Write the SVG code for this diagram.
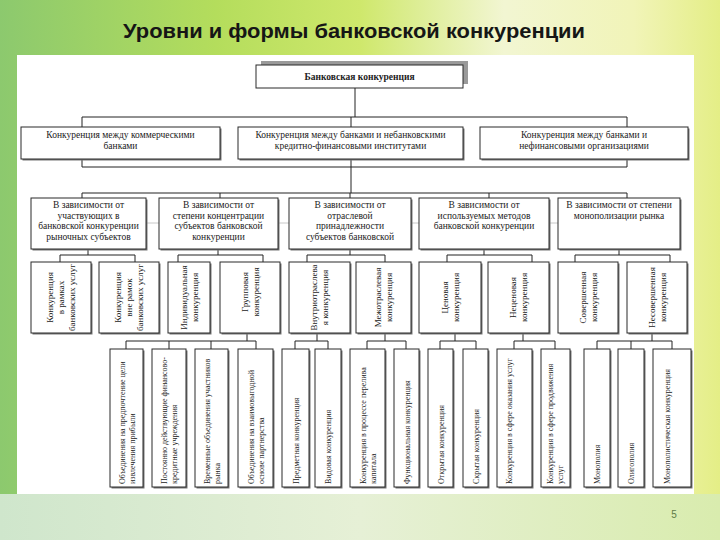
<svg xmlns="http://www.w3.org/2000/svg" width="720" height="540" viewBox="0 0 720 540">
<defs>
<linearGradient id="bg" x1="0" y1="0" x2="1" y2="0">
<stop offset="0" stop-color="#8cc96e"/>
<stop offset="0.3" stop-color="#b4dd5c"/>
<stop offset="0.5" stop-color="#cfe86c"/>
<stop offset="0.7" stop-color="#f2f6d2"/>
<stop offset="0.88" stop-color="#f1f4b8"/>
<stop offset="1" stop-color="#e4ee86"/>
</linearGradient>
<linearGradient id="bot" x1="0" y1="0" x2="1" y2="0">
<stop offset="0" stop-color="#cfe6cc"/>
<stop offset="0.5" stop-color="#e6f0d6"/>
<stop offset="1" stop-color="#d9ecae"/>
</linearGradient>
</defs>
<style>
.bx{fill:#fff;stroke:#2a2a2a;stroke-width:1}
.sh{fill:#777}
.t{font-family:"Liberation Serif","DejaVu Serif",serif;font-size:9.5px;fill:#222;text-anchor:middle}
.v{font-family:"Liberation Serif","DejaVu Serif",serif;font-size:9px;fill:#222;text-anchor:middle}
.vb{font-family:"Liberation Serif","DejaVu Serif",serif;font-size:8px;fill:#222;text-anchor:start}
.c{fill:none;stroke:#222;stroke-width:1}
.f{fill:none;stroke:#c8c8c8;stroke-width:1}
</style>
<rect x="0" y="0" width="720" height="540" fill="url(#bg)"/>
<rect x="0" y="494" width="720" height="46" fill="url(#bot)"/>
<rect x="17" y="55" width="677" height="439" fill="#fff"/>
<text x="354" y="38" font-family="'Liberation Sans','DejaVu Sans',sans-serif" font-weight="bold" font-size="20" fill="#161616" text-anchor="middle" textLength="462" lengthAdjust="spacingAndGlyphs">Уровни и формы банковской конкуренции</text>
<text x="674" y="518" font-family="'Liberation Sans','DejaVu Sans',sans-serif" font-size="10" fill="#5f7a46" text-anchor="middle">5</text>

<g id="connectors">
<path class="f" d="M146 223H159M278 223H289M411 223H419M549 223H558"/>
<path class="c" d="M355 88V117M82 117H627M82 117V127M351 117V127M627 117V127"/>
<path class="c" d="M82 159V167H627V159M351 159V193"/>
<path class="c" d="M82 193H627M82 193V198M220 193V198M350 193V198M489 193V198M627 193V198"/>
<path class="c" d="M88 249V255M60 255H135M60 255V262M135 255V262"/>
<path class="c" d="M218 249V255M178 255H263M178 255V262M263 255V262"/>
<path class="c" d="M350 249V255M307 255H385M307 255V262M385 255V262"/>
<path class="c" d="M484 249V255M447 255H532M447 255V262M532 255V262"/>
<path class="c" d="M619 249V255M575 255H670M575 255V262M670 255V262"/>
<path class="c" d="M247 333V341M126 341H256M126 341V349M169 341V349M211 341V349M256 341V349"/>
<path class="c" d="M317 333V341M295 341H328M295 341V349M328 341V349"/>
<path class="c" d="M385 333V341M367 341H406M367 341V349M406 341V349"/>
<path class="c" d="M455 333V341M440 341H476M440 341V349M476 341V349"/>
<path class="c" d="M523 333V341M514 341H555M514 341V349M555 341V349"/>
<path class="c" d="M652 333V341M597 341H672M597 341V349M631 341V349M672 341V349"/>
</g>

<g id="root">
<rect x="261" y="61" width="207" height="23" fill="#9a9a9a"/>
<rect class="bx" x="256" y="65" width="207" height="23"/>
<text class="t" x="359.5" y="80" font-weight="bold" font-size="10.5px">Банковская конкуренция</text>
</g>

<g id="r2a"><rect class="sh" x="22.5" y="128.5" width="199" height="32"/><rect class="bx" x="21" y="127" width="199" height="32"/>
<text class="t" x="120.5" y="138">Конкуренция между коммерческими</text><text class="t" x="120.5" y="148.5">банками</text></g>
<g id="r2b"><rect class="sh" x="239.5" y="128.5" width="225" height="32"/><rect class="bx" x="238" y="127" width="225" height="32"/>
<text class="t" x="350.5" y="138">Конкуренция между банками и небанковскими</text><text class="t" x="350.5" y="148.5">кредитно-финансовыми институтами</text></g>
<g id="r2c"><rect class="sh" x="481.5" y="128.5" width="208" height="32"/><rect class="bx" x="480" y="127" width="208" height="32"/>
<text class="t" x="584" y="138">Конкуренция между банками и</text><text class="t" x="584" y="148.5">нефинансовыми организациями</text></g>

<g id="r3a"><rect class="sh" x="32.5" y="199.5" width="115" height="51"/><rect class="bx" x="31" y="198" width="115" height="51"/>
<text class="t" x="88.5" y="208">В зависимости от</text><text class="t" x="88.5" y="218.5">участвующих в</text><text class="t" x="88.5" y="229">банковской конкуренции</text><text class="t" x="88.5" y="239.5">рыночных субъектов</text></g>
<g id="r3b"><rect class="sh" x="160.5" y="199.5" width="119" height="51"/><rect class="bx" x="159" y="198" width="119" height="51"/>
<text class="t" x="218.5" y="208">В зависимости от</text><text class="t" x="218.5" y="218.5">степени концентрации</text><text class="t" x="218.5" y="229">субъектов банковской</text><text class="t" x="218.5" y="239.5">конкуренции</text></g>
<g id="r3c"><rect class="sh" x="290.5" y="199.5" width="122" height="51"/><rect class="bx" x="289" y="198" width="122" height="51"/>
<text class="t" x="350" y="208">В зависимости от</text><text class="t" x="350" y="218.5">отраслевой</text><text class="t" x="350" y="229">принадлежности</text><text class="t" x="350" y="239.5">субъектов банковской</text></g>
<g id="r3d"><rect class="sh" x="420.5" y="199.5" width="130" height="51"/><rect class="bx" x="419" y="198" width="130" height="51"/>
<text class="t" x="484" y="208">В зависимости от</text><text class="t" x="484" y="218.5">используемых методов</text><text class="t" x="484" y="229">банковской конкуренции</text></g>
<g id="r3e"><rect class="sh" x="559.5" y="199.5" width="122" height="51"/><rect class="bx" x="558" y="198" width="122" height="51"/>
<text class="t" x="619" y="208">В зависимости от степени</text><text class="t" x="619" y="218.5">монополизации рынка</text></g>

<g id="r4a"><rect class="sh" x="32.5" y="263.5" width="60" height="71"/><rect class="bx" x="31" y="262" width="60" height="71"/>
<text class="v" transform="translate(53,297.5) rotate(-90)">Конкуренция</text><text class="v" transform="translate(64,297.5) rotate(-90)">в рамках</text><text class="v" transform="translate(75,297.5) rotate(-90)">банковских услуг</text></g>
<g id="r4b"><rect class="sh" x="100.5" y="263.5" width="60" height="71"/><rect class="bx" x="99" y="262" width="60" height="71"/>
<text class="v" transform="translate(121,297.5) rotate(-90)">Конкуренция</text><text class="v" transform="translate(132,297.5) rotate(-90)">вне рамок</text><text class="v" transform="translate(143,297.5) rotate(-90)">банковских услуг</text></g>
<g id="r4c"><rect class="sh" x="169.5" y="263.5" width="42" height="71"/><rect class="bx" x="168" y="262" width="42" height="71"/>
<text class="v" transform="translate(186.5,297.5) rotate(-90)">Индивидуальная</text><text class="v" transform="translate(197.5,297.5) rotate(-90)">конкуренция</text></g>
<g id="r4d"><rect class="sh" x="221.5" y="263.5" width="60" height="71"/><rect class="bx" x="220" y="262" width="60" height="71"/>
<text class="v" transform="translate(247.5,292) rotate(-90)">Групповая</text><text class="v" transform="translate(258.5,292) rotate(-90)">конкуренция</text></g>
<g id="r4e"><rect class="sh" x="290.5" y="263.5" width="61" height="71"/><rect class="bx" x="289" y="262" width="61" height="71"/>
<text class="v" transform="translate(317,297.5) rotate(-90)">Внутриотраслева</text><text class="v" transform="translate(328,297.5) rotate(-90)">я конкуренция</text></g>
<g id="r4f"><rect class="sh" x="357.5" y="263.5" width="55" height="71"/><rect class="bx" x="356" y="262" width="55" height="71"/>
<text class="v" transform="translate(381,297.5) rotate(-90)">Межотраслевая</text><text class="v" transform="translate(392,297.5) rotate(-90)">конкуренция</text></g>
<g id="r4g"><rect class="sh" x="420.5" y="263.5" width="62" height="71"/><rect class="bx" x="419" y="262" width="62" height="71"/>
<text class="v" transform="translate(447.5,297.5) rotate(-90)">Ценовая</text><text class="v" transform="translate(458.5,297.5) rotate(-90)">конкуренция</text></g>
<g id="r4h"><rect class="sh" x="489.5" y="263.5" width="61" height="71"/><rect class="bx" x="488" y="262" width="61" height="71"/>
<text class="v" transform="translate(516,297.5) rotate(-90)">Неценовая</text><text class="v" transform="translate(527,297.5) rotate(-90)">конкуренция</text></g>
<g id="r4i"><rect class="sh" x="559.5" y="263.5" width="60" height="71"/><rect class="bx" x="558" y="262" width="60" height="71"/>
<text class="v" transform="translate(585.5,297.5) rotate(-90)">Совершенная</text><text class="v" transform="translate(596.5,297.5) rotate(-90)">конкуренция</text></g>
<g id="r4j"><rect class="sh" x="628.5" y="263.5" width="60" height="71"/><rect class="bx" x="627" y="262" width="60" height="71"/>
<text class="v" transform="translate(654.5,297.5) rotate(-90)">Несовершенная</text><text class="v" transform="translate(665.5,297.5) rotate(-90)">конкуренция</text></g>

<g id="r5a"><rect class="sh" x="111.5" y="350.5" width="33" height="138"/><rect class="bx" x="110" y="349" width="33" height="138"/>
<text class="vb" transform="translate(124.5,484) rotate(-90)">Объединения на предпочтение цели</text><text class="vb" transform="translate(134.5,484) rotate(-90)">извлечения прибыли</text></g>
<g id="r5b"><rect class="sh" x="153.5" y="350.5" width="34" height="138"/><rect class="bx" x="152" y="349" width="34" height="138"/>
<text class="vb" transform="translate(167,484) rotate(-90)">Постоянно действующие финансово-</text><text class="vb" transform="translate(177,484) rotate(-90)">кредитные учреждения</text></g>
<g id="r5c"><rect class="sh" x="196.5" y="350.5" width="33" height="138"/><rect class="bx" x="195" y="349" width="33" height="138"/>
<text class="vb" transform="translate(209.5,484) rotate(-90)">Временные объединения участников</text><text class="vb" transform="translate(219.5,484) rotate(-90)">рынка</text></g>
<g id="r5d"><rect class="sh" x="239.5" y="350.5" width="35" height="138"/><rect class="bx" x="238" y="349" width="35" height="138"/>
<text class="vb" transform="translate(253.5,484) rotate(-90)">Объединения на взаимовыгодной</text><text class="vb" transform="translate(263.5,484) rotate(-90)">основе партнерства</text></g>
<g id="r5e"><rect class="sh" x="283.5" y="350.5" width="27" height="138"/><rect class="bx" x="282" y="349" width="27" height="138"/>
<text class="vb" transform="translate(298.5,484) rotate(-90)">Предметная конкуренция</text></g>
<g id="r5f"><rect class="sh" x="316.5" y="350.5" width="26" height="138"/><rect class="bx" x="315" y="349" width="26" height="138"/>
<text class="vb" transform="translate(331,484) rotate(-90)">Видовая конкуренция</text></g>
<g id="r5g"><rect class="sh" x="351.5" y="350.5" width="35" height="138"/><rect class="bx" x="350" y="349" width="35" height="138"/>
<text class="vb" transform="translate(365.5,484) rotate(-90)">Конкуренция в процессе перелива</text><text class="vb" transform="translate(375.5,484) rotate(-90)">капитала</text></g>
<g id="r5h"><rect class="sh" x="395.5" y="350.5" width="25" height="138"/><rect class="bx" x="394" y="349" width="25" height="138"/>
<text class="vb" transform="translate(409.5,484) rotate(-90)">Функциональная конкуренция</text></g>
<g id="r5i"><rect class="sh" x="429.5" y="350.5" width="25" height="138"/><rect class="bx" x="428" y="349" width="25" height="138"/>
<text class="vb" transform="translate(443.5,484) rotate(-90)">Открытая конкуренция</text></g>
<g id="r5j"><rect class="sh" x="464.5" y="350.5" width="25" height="138"/><rect class="bx" x="463" y="349" width="25" height="138"/>
<text class="vb" transform="translate(478.5,484) rotate(-90)">Скрытая конкуренция</text></g>
<g id="r5k"><rect class="sh" x="498.5" y="350.5" width="35" height="138"/><rect class="bx" x="497" y="349" width="35" height="138"/>
<text class="vb" transform="translate(512,484) rotate(-90)">Конкуренция в сфере оказания услуг</text></g>
<g id="r5l"><rect class="sh" x="542.5" y="350.5" width="29" height="138"/><rect class="bx" x="541" y="349" width="29" height="138"/>
<text class="vb" transform="translate(553,484) rotate(-90)">Конкуренция в сфере продвижения</text><text class="vb" transform="translate(563,484) rotate(-90)">услуг</text></g>
<g id="r5m"><rect class="sh" x="585.5" y="350.5" width="26" height="138"/><rect class="bx" x="584" y="349" width="26" height="138"/>
<text class="vb" transform="translate(600,484) rotate(-90)">Монополия</text></g>
<g id="r5n"><rect class="sh" x="619.5" y="350.5" width="26" height="138"/><rect class="bx" x="618" y="349" width="26" height="138"/>
<text class="vb" transform="translate(634,484) rotate(-90)">Олигополия</text></g>
<g id="r5o"><rect class="sh" x="654.5" y="350.5" width="38" height="138"/><rect class="bx" x="653" y="349" width="38" height="138"/>
<text class="vb" transform="translate(670,484) rotate(-90)">Монополистическая конкуренция</text></g>
</svg>
